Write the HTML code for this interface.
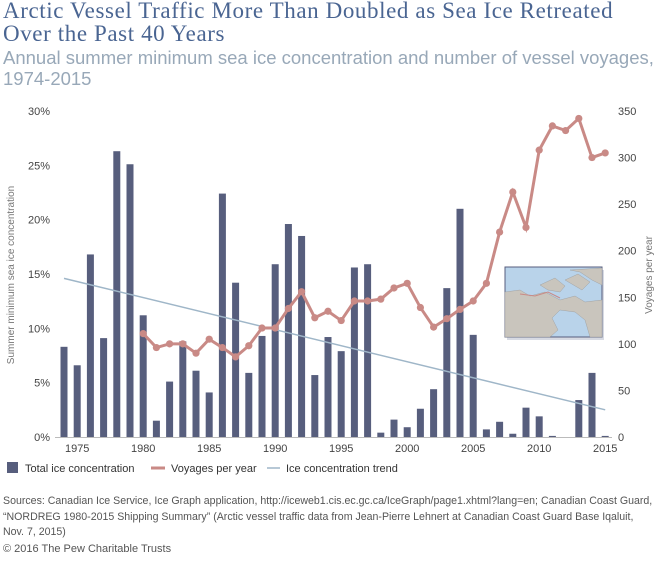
<!DOCTYPE html>
<html><head><meta charset="utf-8"><style>
body{margin:0;background:#fff;width:660px;height:563px;overflow:hidden;font-family:"Liberation Sans",sans-serif}
.t{position:absolute;left:3px;top:-1px;font-family:"Liberation Serif",serif;font-size:23px;line-height:23px;color:#4a6592;letter-spacing:0.6px}
.s{position:absolute;left:3px;top:47px;font-size:18.5px;line-height:21px;color:#98a8b8}
.src{position:absolute;left:3px;top:494px;font-size:10.6px;line-height:15.5px;color:#555;width:652px}
.cp{position:absolute;left:3px;top:543px;font-size:11px;color:#555}
</style></head><body>
<div class="t">Arctic Vessel Traffic More Than Doubled as Sea Ice Retreated<br>Over the Past 40 Years</div>
<div class="s">Annual summer minimum sea ice concentration and number of vessel voyages,<br>1974-2015</div>
<svg id="c" width="660" height="563" style="position:absolute;left:0;top:0"></svg>
<div class="src">Sources: Canadian Ice Service, Ice Graph application, http://iceweb1.cis.ec.gc.ca/IceGraph/page1.xhtml?lang=en; Canadian Coast Guard,<br>“NORDREG 1980-2015 Shipping Summary” (Arctic vessel traffic data from Jean-Pierre Lehnert at Canadian Coast Guard Base Iqaluit,<br>Nov. 7, 2015)</div>
<div class="cp">© 2016 The Pew Charitable Trusts</div>
<script>
const years=[];for(let y=1974;y<=2015;y++)years.push(y);
const ice=[8.3,6.6,16.8,9.1,26.3,25.1,11.2,1.5,5.1,8.8,6.1,4.1,22.4,14.2,5.9,9.3,15.9,19.6,18.5,5.7,9.2,7.9,15.6,15.9,0.4,1.6,0.9,2.6,4.4,13.7,21.0,9.4,0.7,1.4,0.3,2.7,1.9,0.1,0,3.4,5.9,0.1];
const voyageYears=[];for(let y=1980;y<=2015;y++)voyageYears.push(y);
const voyages=[111,96,100,100,90,105,96,86,98,117,117,138,156,128,135,125,146,146,148,160,165,139,118,127,137,146,165,220,263,225,308,334,329,342,300,305];
const trendYears=[1974,2015];
const trendVals=[14.6,2.5];
const leftTicks=[0,5,10,15,20,25,30];
const rightTicks=[0,50,100,150,200,250,300,350];
const xTicks=[1975,1980,1985,1990,1995,2000,2005,2010,2015];
const NS="http://www.w3.org/2000/svg",svg=document.getElementById('c');
const X=y=>64+(y-1974)*13.2, YL=v=>437-v*326/30, YR=v=>437-v*326/350;
function el(t,a,txt){const e=document.createElementNS(NS,t);for(const k in a)e.setAttribute(k,a[k]);if(txt!=null)e.textContent=txt;svg.appendChild(e);return e;}
let e=el('line',{x1:55,x2:612,y1:437.5,y2:437.5,stroke:'#bbb','stroke-width':1});

leftTicks.forEach(v=>{const t=el('text',{x:50,y:YL(v)+4,'text-anchor':'end','font-size':11,fill:'#444'},v+'%');
});
rightTicks.forEach(v=>{const t=el('text',{x:618,y:YR(v)+4,'font-size':11,fill:'#444'},v);
});
xTicks.forEach(v=>{const t=el('text',{x:X(v),y:452,'text-anchor':'middle','font-size':11,fill:'#444'},v);
});
e=el('text',{transform:'translate(14,275) rotate(-90)','text-anchor':'middle','font-size':10,fill:'#777'},'Summer minimum sea ice concentration');

e=el('text',{transform:'translate(652,275) rotate(-90)','text-anchor':'middle','font-size':10,fill:'#777'},'Voyages per year');

years.forEach((y,i)=>{const b=el('rect',{x:X(y)-3.5,y:YL(ice[i]),width:7,height:437-YL(ice[i]),fill:'#575e7d'});
});
e=el('line',{x1:X(trendYears[0]),y1:YL(trendVals[0]),x2:X(trendYears[1]),y2:YL(trendVals[1]),stroke:'#9fb6c8','stroke-width':1.5});

e=el('polyline',{points:voyageYears.map((y,i)=>X(y)+','+YR(voyages[i])).join(' '),fill:'none',stroke:'#c98a86','stroke-width':3});

voyageYears.forEach((y,i)=>{const c=el('circle',{cx:X(y),cy:YR(voyages[i]),r:3.6,fill:'#c98a86'});
});
const g=el('g',{});
g.innerHTML='<rect x="507" y="270" width="97" height="70" fill="#d7dae3"/><rect x="505" y="267" width="97" height="70" fill="#b9d3ea" stroke="#575e7d" stroke-width="1"/>'+
'<path d="M505 292 L520 290 L530 296 L545 292 L560 300 L575 296 L585 302 L602 300 L602 337 L590 337 L585 320 L575 312 L560 310 L552 318 L558 330 L550 337 L505 337Z" fill="#c9c5bd" stroke="#999" stroke-width=".4"/>'+
'<path d="M540 285 L555 278 L565 286 L560 292 L548 290Z M565 280 L578 274 L590 282 L582 290 Z M570 270 L602 268 L602 285 L592 280 L580 272Z" fill="#c9c5bd" stroke="#999" stroke-width=".4"/>'+
'<path d="M520 294 L535 296 L548 292 L560 298" fill="none" stroke="#c98a86" stroke-width="1"/>';
svg.appendChild(g);
e=el('rect',{x:7,y:462,width:11,height:11,fill:'#575e7d'});
e=el('text',{x:25,y:472,'font-size':11,fill:'#333'},'Total ice concentration');
e=el('line',{x1:151,x2:165,y1:468,y2:468,stroke:'#c98a86','stroke-width':3});
e=el('text',{x:171,y:472,'font-size':11,fill:'#333'},'Voyages per year');
e=el('line',{x1:267,x2:280,y1:468,y2:468,stroke:'#9fb6c8','stroke-width':1.5});
e=el('text',{x:286,y:472,'font-size':11,fill:'#333'},'Ice concentration trend');
</script>
</body></html>
